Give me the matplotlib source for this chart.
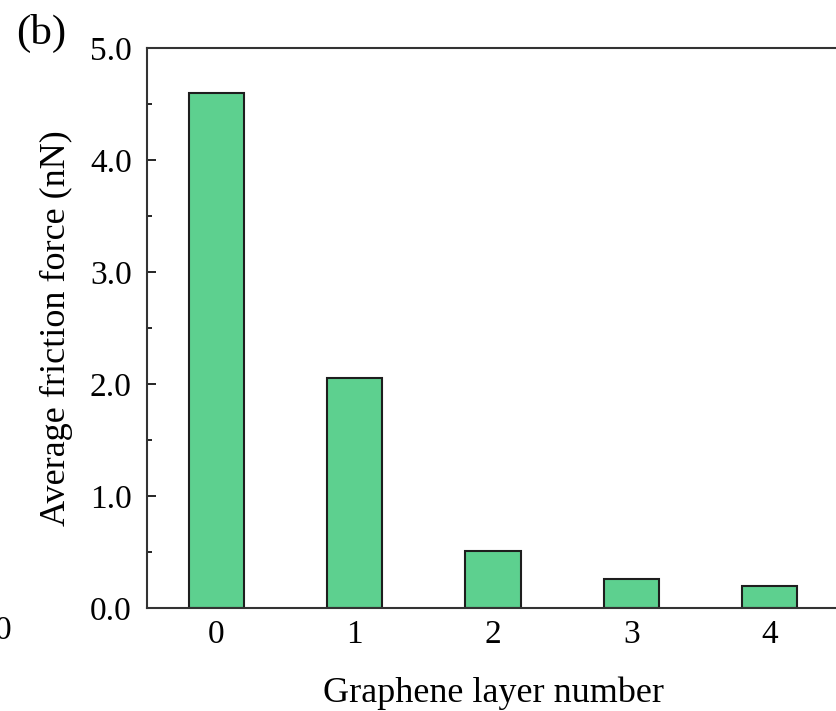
import matplotlib.pyplot as plt
from matplotlib.ticker import MultipleLocator, FormatStrFormatter

layers = [0, 1, 2, 3, 4]
friction = [4.6, 2.05, 0.51, 0.26, 0.2]

plt.rcParams['font.family'] = ['Liberation Serif', 'DejaVu Serif']

fig = plt.figure(figsize=(8.36, 7.11), dpi=100)
ax = fig.add_axes([147/836, 103/711, 692/836, 560/711])

ax.bar(layers, friction, width=0.4, color='#5DD08F', edgecolor='#1e1e1e', linewidth=1.5)

ax.set_xlim(-0.5, 4.5)
ax.set_ylim(0, 5.0)
ax.set_xticks(layers)
ax.yaxis.set_major_locator(MultipleLocator(1.0))
ax.yaxis.set_minor_locator(MultipleLocator(0.5))
ax.yaxis.set_major_formatter(FormatStrFormatter('%.1f'))
ax.tick_params(axis='y', which='major', direction='in', length=6.5, width=1.2, labelsize=24, pad=11)
ax.tick_params(axis='y', which='minor', direction='in', length=3.5, width=1.2)
ax.tick_params(axis='x', which='major', length=0, labelsize=24, pad=8)
for s in ax.spines.values():
    s.set_linewidth(1.5)
    s.set_color('#333333')

ax.set_xlabel('Graphene layer number', fontsize=26, labelpad=19)
ax.set_ylabel('Average friction force (nN)', fontsize=26, labelpad=12)

fig.text(16/836, 1 - 33/711, '(b)', fontsize=31, va='center', ha='left')
fig.text(-5/836, 1 - 631/711, '0', fontsize=24, va='center', ha='left')

fig.savefig('out.png', dpi=100)
